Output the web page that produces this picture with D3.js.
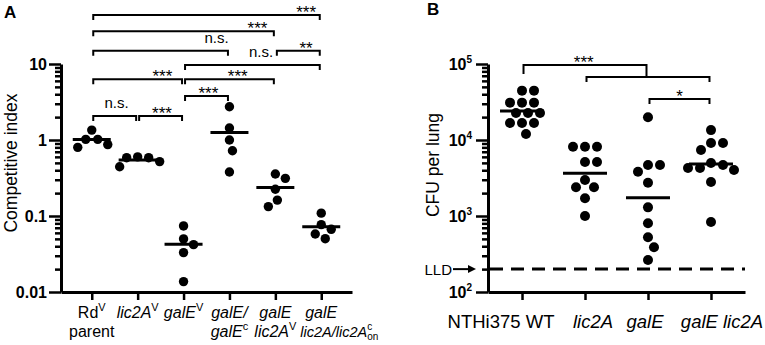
<!DOCTYPE html>
<html>
<head>
<meta charset="utf-8">
<title>Competitive index / CFU per lung</title>
<script src="https://cdn.jsdelivr.net/npm/d3@7"></script>
<style>
    body { margin: 0; background: #fff; }
    svg { font-family: "Liberation Sans", Arial, sans-serif; }
    .axis path.domain { stroke: #000; stroke-width: 3px; }
    .axis .tick line { stroke: #000; stroke-width: 2.5px; }
    .ytick { font-size: 16px; font-weight: bold; fill: #000; }
    .xlab { fill: #000; }
    .dot { fill: #000; }
    .mean { stroke: #000; stroke-width: 3px; }
    .bracket { fill: none; stroke: #000; stroke-width: 2px; }
    .sig { fill: #000; text-anchor: middle; }
    .ytitle { fill: #000; text-anchor: middle; }
    .panel { font-size: 17px; font-weight: bold; fill: #000; }
</style>
</head>
<body>
<script>
// ---- panel A : competitive index ----
var catsA = ["Rd parent", "lic2A", "galE", "galE/galEc", "galE lic2A", "galE lic2A/lic2Acon"];
var ciRdParent = [1.35, 1.02, 1.02, 0.87, 0.80];
var ciLic2A = [0.60, 0.585, 0.585, 0.52, 0.445];
var ciGalE = [0.074, 0.050, 0.042, 0.033, 0.0137];
var ciGalEComp = [2.74, 1.44, 1.0, 0.723, 0.379];
var ciGalELic2A = [0.313, 0.357, 0.225, 0.162, 0.133];
var ciGalELic2AComp = [0.109, 0.0668, 0.0769, 0.058, 0.0503];
var valuesA = [ciRdParent, ciLic2A, ciGalE, ciGalEComp, ciGalELic2A, ciGalELic2AComp];

var labelsA = [
    [[{t: "Rd"}, {t: "V", sup: 1}], [{t: "parent"}]],
    [[{t: "lic2A", i: 1}, {t: "V", sup: 1}]],
    [[{t: "galE", i: 1}, {t: "V", sup: 1}]],
    [[{t: "galE/", i: 1}], [{t: "galE", i: 1}, {t: "c", sup: 1}]],
    [[{t: "galE", i: 1}], [{t: "lic2A", i: 1}, {t: "V", sup: 1}]],
    [[{t: "galE", i: 1}], [{t: "lic2A/lic2A", i: 1}, {t: "c", sup: 1}, {t: "on", sub: 1, back: 1}]]
];

// from / to are category indexes, level is a value on the y scale, at = label position (category units)
var bracketsA = [
    {from: 0, to: 5, level: 44, label: "***", at: 4.67},
    {from: 0, to: 4, level: 27, label: "***", at: 3.61},
    {from: 0, to: 3, level: 14.9, label: "n.s.", at: 2.72},
    {from: 4, to: 5, level: 14.9, label: "**", at: 4.67},
    {from: 2, to: 5, level: 9.7, label: "n.s.", at: 3.69},
    {from: 0, to: 2, level: 6.3, label: "***", at: 1.54},
    {from: 2, to: 4, level: 6.3, label: "***", at: 3.18},
    {from: 2, to: 3, level: 3.8, label: "***", at: 2.54},
    {from: 0, to: 1, level: 2.07, label: "n.s.", at: 0.54},
    {from: 1, to: 2, level: 2.07, label: "***", at: 1.53}
];

// ---- panel B : CFU per lung ----
var catsB = ["NTHi375 WT", "lic2A", "galE", "galE lic2A"];
var cfuWT = [44600, 44600, 31000, 31000, 31000, 22700, 22700, 22700, 16700, 16700, 16700, 12000];
var cfuLic2A = [8170, 8170, 8170, 5140, 5140, 2980, 2390, 2390, 1710, 1000];
var cfuGalE = [19900, 4690, 4690, 3830, 2740, 1300, 802, 525, 387, 264];
var cfuGalELic2A = [13500, 9130, 9130, 7390, 4980, 4690, 4280, 4280, 4030, 2800, 834];
var valuesB = [cfuWT, cfuLic2A, cfuGalE, cfuGalELic2A];
var labelsB = [[{t: "NTHi375 WT"}], [{t: "lic2A", i: 1}], [{t: "galE", i: 1}], [{t: "galE lic2A", i: 1}]];
var lld = 200;

var bracketsB = [
    {from: 0, to: 2, level: 97000, dropTo: 67500, label: "***", at: 0.98},
    {from: 1, to: 3, level: 67500, label: "", at: 2},
    {from: 2, to: 3, level: 34600, label: "*", at: 2.5}
];

var svg = d3.select("body").append("svg").attr("width", 765).attr("height", 345);

function isMajor(d) {
    var l = Math.log10(d);
    return Math.abs(l - Math.round(l)) < 1e-6;
}

function rich(text, segs, supSize) {
    var shift = 0;
    segs.forEach(function (s) {
        var target = s.sup ? -7 : (s.sub ? 3 : 0);
        var ts = text.append("tspan").text(s.t);
        if (target !== shift) ts.attr("dy", target - shift);
        if (s.back) ts.attr("dx", -supSize * 0.5);
        if (s.i) ts.attr("font-style", "italic");
        if (s.sup || s.sub) ts.attr("font-size", supSize);
        shift = target;
    });
}

// simple beeswarm: each dot takes the nearest free horizontal offset
function swarm(vals, y, r) {
    var placed = [], out = [];
    var minD = 2 * r + 1.5;
    var order = d3.range(vals.length).sort(function (a, b) { return vals[b] - vals[a]; });
    order.forEach(function (i) {
        var py = y(vals[i]), off = 0;
        for (var k = 0; k < 400; k++) {
            off = (k % 2 ? 1 : -1) * Math.ceil(k / 2);
            var ok = placed.every(function (p) {
                return (off - p.off) * (off - p.off) + (py - p.y) * (py - p.y) >= minD * minD;
            });
            if (ok) break;
        }
        placed.push({off: off, y: py});
        out.push({v: vals[i], off: off});
    });
    return out;
}

function drawBrackets(g, list, x, y) {
    list.forEach(function (b) {
        var x1 = x(b.from) + 1.5, x2 = x(b.to) - 1.5, yy = y(b.level);
        var yl = b.dropTo ? y(b.dropTo) : yy + 5;
        g.append("path").attr("class", "bracket")
            .attr("d", "M" + x1 + "," + (yy + (b.dropTo ? 9 : 5)) + "V" + yy + "H" + x2 + "V" + yl);
        if (b.label) {
            var ns = b.label === "n.s.";
            g.append("text").attr("class", "sig")
                .attr("x", x(b.at))
                .attr("y", yy + (ns ? -8 : 3))
                .attr("font-size", ns ? 15 : 17)
                .text(b.label);
        }
    });
}

// ================= Panel A =================
(function () {
    var xA = d3.scalePoint().domain(catsA).range([61, 352]).padding(0.67);
    var yA = d3.scaleLog().domain([0.01, 10]).range([292, 64]);
    var xi = function (i) { return xA(catsA[0]) + i * xA.step(); };

    var gy = svg.append("g").attr("class", "axis").attr("transform", "translate(61,0)")
        .call(d3.axisLeft(yA).tickValues(yA.ticks()).tickSizeInner(6).tickSizeOuter(0).tickPadding(8)
            .tickFormat(function (d) { return isMajor(d) ? d3.format("~g")(d) : ""; }));
    gy.attr("font-size", null).attr("font-family", null);
    gy.selectAll(".tick").filter(isMajor).select("line").attr("x2", -12);
    gy.selectAll(".tick text").attr("class", "ytick").attr("dy", "0.36em");

    svg.append("g").attr("class", "axis").attr("transform", "translate(0,292)")
        .call(d3.axisBottom(xA).tickSizeInner(8).tickSizeOuter(0).tickFormat(""));

    catsA.forEach(function (c, i) {
        labelsA[i].forEach(function (line, j) {
            // the long last label is set smaller and starts left of its tick
            var long = i === catsA.length - 1 && j === 1;
            var t = svg.append("text").attr("class", "xlab")
                .attr("x", long ? xA(c) - 21 : xA(c)).attr("y", 318 + j * 19)
                .attr("text-anchor", long ? "start" : "middle")
                .attr("font-size", long ? 14.5 : 16);
            rich(t, line, long ? 10 : 11);
        });
    });

    svg.append("text").attr("class", "ytitle").attr("font-size", 17.5)
        .attr("transform", "translate(17," + ((64 + 292) / 2 - 15) + ") rotate(-90)")
        .text("Competitive index");

    valuesA.forEach(function (vals, i) {
        var cx = xA(catsA[i]);
        svg.append("g").selectAll("circle").data(swarm(vals, yA, 4.7)).join("circle")
            .attr("class", "dot").attr("r", 4.7)
            .attr("cx", function (d) { return cx + d.off; })
            .attr("cy", function (d) { return yA(d.v); });
        var m = d3.mean(vals);
        svg.append("line").attr("class", "mean")
            .attr("x1", cx - 19).attr("x2", cx + 19)
            .attr("y1", yA(m)).attr("y2", yA(m));
    });

    drawBrackets(svg.append("g"), bracketsA, xi, yA);

    svg.append("text").attr("class", "panel").attr("x", 4).attr("y", 18).text("A");
})();

// ================= Panel B =================
(function () {
    var xB = d3.scalePoint().domain(catsB).range([488, 745]).padding(0.54);
    var yB = d3.scaleLog().domain([100, 1e5]).range([292, 64]);
    var xi = function (i) { return xB(catsB[0]) + i * xB.step(); };
    var nudge = [-21, 8, -3, 11]; // labels are not exactly centred on the ticks

    var gy = svg.append("g").attr("class", "axis").attr("transform", "translate(488,0)")
        .call(d3.axisLeft(yB).tickValues(yB.ticks()).tickSizeInner(6).tickSizeOuter(0).tickFormat(""));
    gy.attr("font-size", null).attr("font-family", null);
    var majors = gy.selectAll(".tick").filter(isMajor);
    majors.select("line").attr("x2", -12);
    majors.append("text").attr("class", "ytick").attr("x", -16).attr("dy", "0.36em")
        .attr("text-anchor", "end")
        .each(function (d) {
            var t = d3.select(this);
            t.append("tspan").text("10");
            t.append("tspan").attr("dy", -7).attr("font-size", 10).text(Math.round(Math.log10(d)));
        });

    svg.append("g").attr("class", "axis").attr("transform", "translate(0,292)")
        .call(d3.axisBottom(xB).tickSizeInner(8).tickSizeOuter(0).tickFormat(""));

    catsB.forEach(function (c, i) {
        var t = svg.append("text").attr("class", "xlab")
            .attr("x", xB(c) + nudge[i]).attr("y", 328)
            .attr("text-anchor", "middle").attr("font-size", 18.5);
        rich(t, labelsB[i], 12);
    });

    svg.append("text").attr("class", "ytitle").attr("font-size", 17.5)
        .attr("transform", "translate(439," + ((64 + 292) / 2 - 13) + ") rotate(-90)")
        .text("CFU per lung");

    // lower limit of detection
    var ly = yB(lld);
    svg.append("line").attr("x1", 490).attr("x2", 745).attr("y1", ly).attr("y2", ly)
        .attr("stroke", "#000").attr("stroke-width", 3).attr("stroke-dasharray", "13,8");
    svg.append("text").attr("x", 452).attr("y", ly).attr("dy", "0.36em")
        .attr("text-anchor", "end").attr("font-size", 15).attr("fill", "#000").text("LLD");
    svg.append("line").attr("x1", 453).attr("x2", 470).attr("y1", ly).attr("y2", ly)
        .attr("stroke", "#000").attr("stroke-width", 2);
    svg.append("path").attr("d", "M468," + (ly - 4) + "L476," + ly + "L468," + (ly + 4) + "Z").attr("fill", "#000");

    valuesB.forEach(function (vals, i) {
        var cx = xB(catsB[i]);
        svg.append("g").selectAll("circle").data(swarm(vals, yB, 5)).join("circle")
            .attr("class", "dot").attr("r", 5)
            .attr("cx", function (d) { return cx + d.off; })
            .attr("cy", function (d) { return yB(d.v); });
        var gm = Math.pow(10, d3.mean(vals, function (v) { return Math.log10(v); }));
        svg.append("line").attr("class", "mean")
            .attr("x1", cx - 22).attr("x2", cx + 22)
            .attr("y1", yB(gm)).attr("y2", yB(gm));
    });

    drawBrackets(svg.append("g"), bracketsB, xi, yB);

    svg.append("text").attr("class", "panel").attr("x", 427).attr("y", 15).text("B");
})();
</script>
</body>
</html>
